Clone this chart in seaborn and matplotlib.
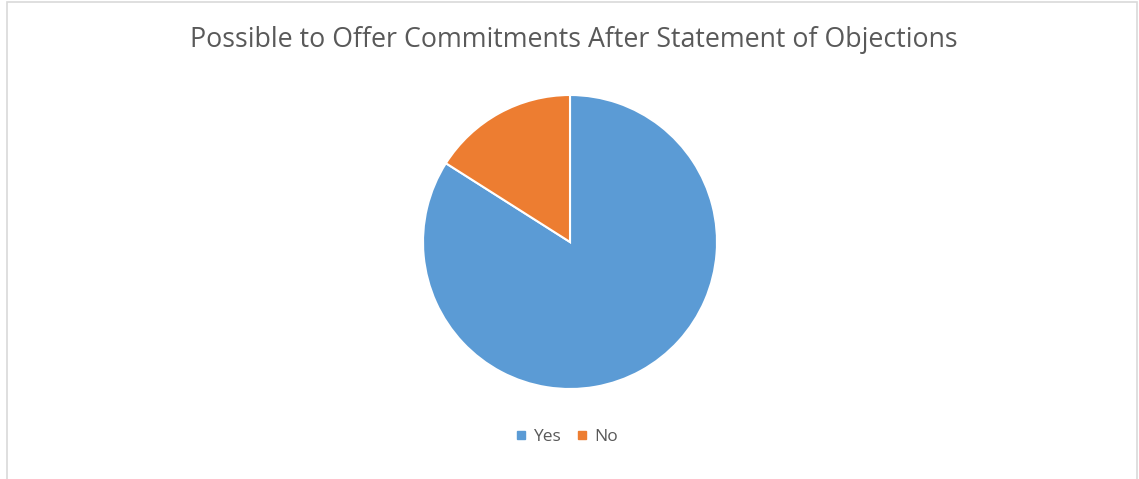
import matplotlib
matplotlib.use("Agg")
import matplotlib.pyplot as plt
import seaborn as sns
from matplotlib.patches import Rectangle

categories = ["Yes", "No"]
values = [84, 16]
title = "Possible to Offer Commitments After Statement of Objections"

sns.set_theme(style="white")
plt.rcParams['font.family'] = ['Open Sans', 'DejaVu Sans']
colors = ["#5B9BD5", "#ED7D31"]

W, H = 1139, 479
fig = plt.figure(figsize=(W / 100, H / 100), dpi=100)

# outer border
fig.patches.append(Rectangle((7 / W, -0.1), (1137 - 7) / W, (H - 2) / H + 0.1,
                             transform=fig.transFigure, fill=False,
                             edgecolor="#D9D9D9", linewidth=1.2))

cx, cy, r = 570, 242, 147
ax = fig.add_axes([(cx - r) / W, (H - cy - r) / H, 2 * r / W, 2 * r / H])
ax.pie(values, colors=colors, startangle=90, counterclock=False,
       wedgeprops=dict(edgecolor="white", linewidth=1.5), radius=1)
ax.set_xlim(-1, 1)
ax.set_ylim(-1, 1)
ax.set_aspect("equal")
ax.axis("off")

fig.text(574 / W, 1 - 40 / H, title, ha="center", va="center",
         fontsize=19.3, color="#595959")

handles = [plt.Line2D([], [], marker="s", linestyle="", markersize=5.5,
                      markerfacecolor=c, markeredgecolor=c) for c in colors]
fig.legend(handles, categories, loc="center", bbox_to_anchor=(566 / W, 1 - 437 / H),
           ncol=2, frameon=False, fontsize=12.5, labelcolor="#595959",
           handletextpad=0.3, columnspacing=0.8, handlelength=0.8)

fig.savefig("out.png", dpi=100)
